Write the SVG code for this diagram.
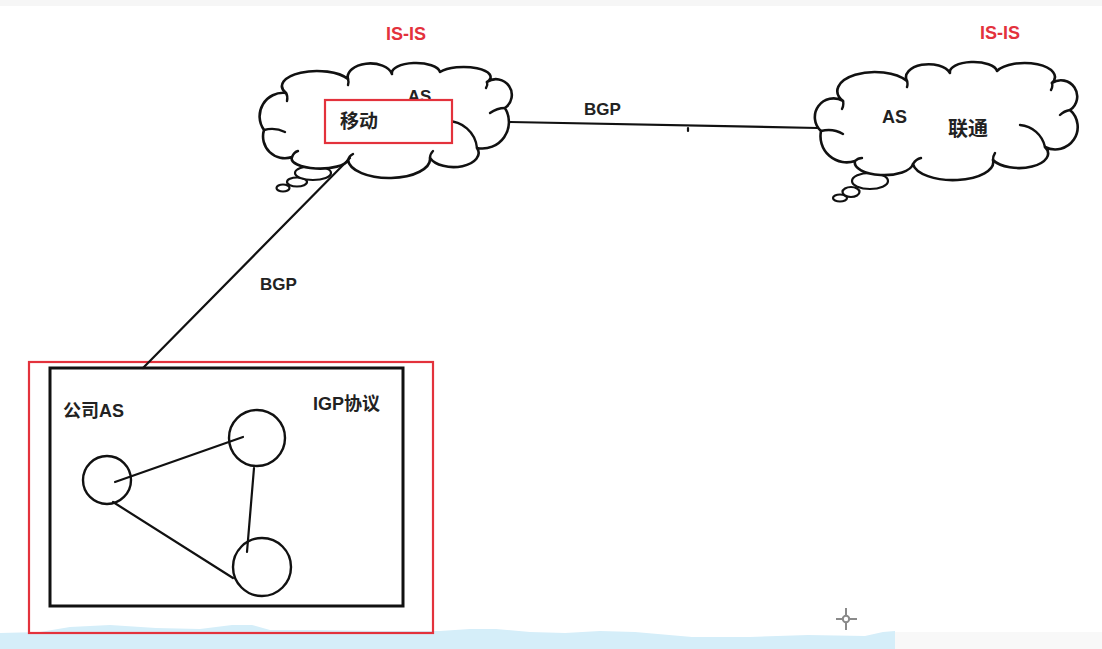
<svg xmlns="http://www.w3.org/2000/svg" width="1102" height="649" viewBox="0 0 1102 649">
<style>
  .t { font-family: "Liberation Sans", "Noto Sans CJK SC", sans-serif; font-weight: bold; fill: #222; }
  .red { fill: #e3323c; }
  .cloud { fill: #fff; stroke: #111; stroke-width: 2.6; stroke-linejoin: round; }
  .curl { fill: none; stroke: #111; stroke-width: 2.4; stroke-linecap: round; }
  .bub { fill: #fff; stroke: #111; stroke-width: 2.2; }
  .wire { stroke: #111; stroke-width: 2.2; fill: none; stroke-linecap: round; }
  .node { fill: none; stroke: #111; stroke-width: 2.4; }
</style>
<rect x="0" y="0" width="1102" height="649" fill="#fff"/>
<rect x="0" y="0" width="1102" height="6" fill="#f6f6f6"/>
<rect x="895" y="632" width="207" height="17" fill="#f8f8f8"/>
<path d="M0,633 L40,632 L70,627 L110,625 L156,628 L200,629 L232,625 L252,625 L270,630 L311,630 L380,631 L440,631 L470,629 L496,629 L530,632 L565,633 L600,631 L635,632 L692,637 L750,637 L808,635 L865,636 L883,632 L895,631 L895,649 L0,649 Z" fill="#d5eef9"/>

<g id="cloud-mobile">
  <ellipse class="bub" cx="283" cy="188" rx="6.5" ry="3.5"/>
  <ellipse class="bub" cx="297" cy="182" rx="10" ry="4.5"/>
  <ellipse class="bub" cx="313" cy="173" rx="18" ry="7"/>
  <path class="cloud" d="M264,130 A23.5 23.5 0 0 1 286,93 A35 15 0 0 1 348,79 A22.4 13.5 0 0 1 392,74 A24 10 0 0 1 440,72 A27 10 0 0 1 487,82 A15.8 15.8 0 0 1 505,108 A26.6 26.6 0 0 1 477,148 A25 14 0 0 1 430,158 A41 19 0 0 1 348,160 A28 10 0 0 1 292,157 A21.8 21.8 0 0 1 264,130 Z"/>
  <path class="curl" d="M286,93 q2,3 1,8 M264,130 q11,-3 21,2 M292,157 q2,-5 6,-6 M348,160 q1,-4 5,-6 M430,158 q0,-4 3,-7 M446,121 A30 30 0 0 1 477,148 M505,108 q-8,0 -15,5 M348,79 q1,3 0,6 M487,82 q1,3 -1,6"/>
  <text class="t" x="419.5" y="102" font-size="17" text-anchor="middle">AS</text>
  <rect x="325" y="100" width="127" height="43" fill="#fff" stroke="#e3323c" stroke-width="2.2"/>
  <text class="t" x="340" y="128" font-size="19">移动</text>
  <text class="t red" x="406" y="40" font-size="18" text-anchor="middle">IS-IS</text>
</g>

<g id="cloud-unicom">
  <ellipse class="bub" cx="840" cy="198" rx="7" ry="3.5"/>
  <ellipse class="bub" cx="851" cy="192" rx="8.5" ry="5"/>
  <ellipse class="bub" cx="870" cy="181" rx="18" ry="8"/>
  <path class="cloud" d="M821,131 A18.7 18.7 0 0 1 843,101 A37.6 19 0 0 1 907,81 A22.6 13 0 0 1 950,73 A23.5 10 0 0 1 997,71 A30.4 14 0 0 1 1052,83 A16.2 16.2 0 0 1 1070,110 A22.5 22.5 0 0 1 1045,147 A29 14.5 0 0 1 993,160 A40 18 0 0 1 913,164 A29 12.5 0 0 1 855,161 A26.2 26.2 0 0 1 821,131 Z"/>
  <path class="curl" d="M843,101 q1,4 -1,8 M821,131 q12,-3 22,3 M855,161 q3,-3 7,-3 M913,164 q3,-5 8,-6 M993,160 q0,-4 2,-7 M1020,125 A28 28 0 0 1 1045,147 M1070,110 q-6,1 -10,5 M1052,83 q1,4 -1,7 M907,81 q1,3 0,6"/>
  <text class="t" x="894.5" y="123" font-size="18" text-anchor="middle">AS</text>
  <text class="t" x="948" y="136" font-size="20">联通</text>
  <text class="t red" x="1000" y="39" font-size="18" text-anchor="middle">IS-IS</text>
</g>

<g id="company-as">
  <rect x="29" y="362" width="404" height="271" fill="none" stroke="#e3323c" stroke-width="2.2"/>
  <rect x="50" y="368" width="353" height="238" fill="#fff" stroke="#111" stroke-width="3"/>
  <text class="t" x="63" y="417" font-size="18">公司AS</text>
  <text class="t" x="313" y="410" font-size="18">IGP协议</text>
</g>

<g id="router-1"><circle class="node" cx="107" cy="480" r="24"/></g>
<g id="router-2"><circle class="node" cx="257" cy="438" r="28"/></g>
<g id="router-3"><circle class="node" cx="262" cy="567" r="29"/></g>

<g id="connectors">
  <path class="wire" d="M510,122 L818,128"/>
  <path class="wire" d="M688,128 L688,131"/>
  <text class="t" x="602.5" y="115" font-size="17" text-anchor="middle">BGP</text>
  <path class="wire" d="M350,158 L143,368"/>
  <text class="t" x="278.5" y="290" font-size="17" text-anchor="middle">BGP</text>
  <path class="wire" d="M115,482 L243,437"/>
  <path class="wire" d="M113,502 L233,578"/>
  <path class="wire" d="M254,468 L247,552"/>
</g>

<g id="cursor" stroke="#8a8a8a" stroke-width="2" fill="none">
  <path d="M836,619 L842.5,619 M849.5,619 L857,619 M846,608 L846,615.5 M846,622.5 L846,630"/>
  <circle cx="846" cy="619" r="3.2" fill="#fff"/>
</g>
</svg>
